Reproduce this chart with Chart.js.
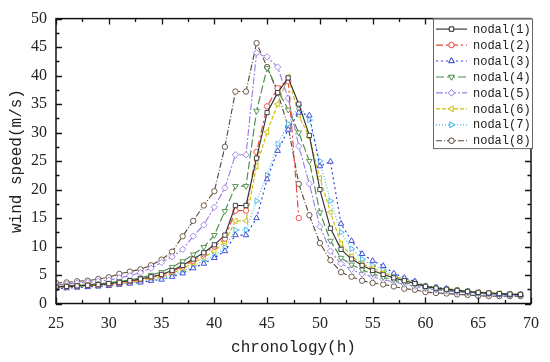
<!DOCTYPE html>
<html>
<head>
<meta charset="utf-8">
<script src="https://cdn.jsdelivr.net/npm/chart.js@4.4.0/dist/chart.umd.min.js"></script>
<style>
  html, body { margin: 0; padding: 0; background: #fff; }
  #wrap { width: 550px; height: 362px; }
</style>
</head>
<body>
<div id="wrap"><canvas id="chart" width="550" height="362"></canvas></div>
<script>
// hours on the x axis
const hours = [25,26,27,28,29,30,31,32,33,34,35,36,37,38,39,40,41,42,43,44,45,46,47,48,49,50,
  51,52,53,54,55,56,57,58,59,60,61,62,63,64,65,66,67,68,69];

// wind speed (m/s) per node
const nodal1 = [2.9,3.0,3.1,3.2,3.3,3.5,3.7,4.0,4.3,4.7,5.1,5.8,6.7,7.8,8.9,10.3,12.0,
  17.2,17.2,25.5,33.5,37.0,39.6,35.0,29.5,20.0,13.2,
  9.5,7.8,6.7,5.8,5.1,4.5,4.0,3.5,3.0,2.7,2.5,2.3,2.1,1.95,1.85,1.75,1.65,1.6];
const nodal2 = [2.9,3.0,3.1,3.2,3.3,3.4,3.6,3.9,4.2,4.6,5.0,5.6,6.5,7.5,8.6,10.0,11.4,
  16.3,16.3,26.6,34.6,37.8,39.0,15.0,
  null,null,null,null,null,null,null,null,null,null,null,null,null,null,null,null,null,null,null,null,null];
const nodal3 = [2.6,2.7,2.8,2.9,3.0,3.1,3.3,3.5,3.7,4.0,4.2,4.7,5.3,6.2,7.0,8.0,9.2,
  12.0,12.0,15.0,21.8,26.8,30.5,33.5,33.0,24.1,24.9,
  14.0,11.0,8.7,7.5,6.6,5.3,4.5,3.9,3.05,2.8,2.6,2.3,2.15,1.85,1.75,1.6,1.55,1.55];
const nodal4 = [3.0,3.1,3.2,3.3,3.5,3.6,3.9,4.1,4.5,5.0,5.5,6.4,7.4,8.6,9.9,12.0,16.2,
  20.6,20.6,33.8,41.3,37.5,34.0,30.0,25.0,16.0,11.0,
  8.0,6.8,5.9,5.2,4.6,4.1,3.7,3.3,2.8,2.6,2.4,2.2,2.0,1.9,1.8,1.7,1.6,1.55];
const nodal5 = [3.3,3.4,3.6,3.7,3.9,4.1,4.5,4.9,5.4,6.2,7.2,8.2,9.5,11.8,13.8,16.9,20.3,
  26.1,26.1,44.0,43.3,41.5,36.0,27.6,21.0,13.5,9.2,
  7.0,6.0,5.2,4.7,4.2,3.8,3.4,3.0,2.6,2.4,2.2,2.0,1.9,1.75,1.65,1.55,1.5,1.45];
const nodal6 = [2.8,2.9,3.0,3.1,3.2,3.3,3.5,3.7,4.0,4.4,4.7,5.3,6.1,7.1,8.1,9.2,10.8,
  14.5,14.5,24.1,30.1,35.0,39.8,33.0,29.2,22.0,16.0,
  10.5,8.3,7.0,6.2,5.4,4.8,4.2,3.7,3.1,2.8,2.6,2.4,2.2,2.0,1.9,1.8,1.7,1.65];
const nodal7 = [2.7,2.8,2.9,3.0,3.1,3.2,3.4,3.6,3.8,4.1,4.4,5.0,5.7,6.6,7.5,8.3,9.8,
  12.9,12.9,18.0,22.5,28.0,31.5,34.8,32.2,25.0,18.0,
  12.5,9.6,7.8,6.7,5.9,5.0,4.3,3.8,3.0,2.75,2.55,2.3,2.1,1.85,1.75,1.65,1.6,1.55];
const nodal8 = [3.6,3.7,3.9,4.0,4.3,4.6,5.2,5.6,6.0,6.7,7.7,9.1,11.8,14.5,17.2,19.7,27.5,
  37.2,37.2,45.7,41.5,37.0,31.0,21.0,15.5,10.6,7.6,
  5.5,4.7,4.0,3.6,3.35,3.0,2.6,2.4,2.0,1.85,1.75,1.6,1.5,1.35,1.3,1.3,1.3,1.3];

const names = ["nodal(1)","nodal(2)","nodal(3)","nodal(4)","nodal(5)","nodal(6)","nodal(7)","nodal(8)"];
const seriesList = [nodal1, nodal2, nodal3, nodal4, nodal5, nodal6, nodal7, nodal8];

// look of each series
const colors = ["#333333","#e8453c","#2f3fd6","#4a8c4a","#9b7fe8","#c9bd00","#3fb3e8","#5e4a3a"];
const dashes = [[], [7,3,2,3], [2,3], [8,3], [7,2,2,2], [4,2], [1,2], [6,2,1,2]];
const markers = ["rect","circle","triangle","triangle","rectRot","triangle","triangle","circle"];
const rotations = [0,0,0,180,0,270,90,0];
const radii = [3,2.7,3.2,3.2,3.2,3.2,3.2,2.7];

const datasets = seriesList.map((vals, i) => ({
  label: names[i],
  data: vals.map((v, j) => ({ x: hours[j], y: v })),
  borderColor: colors[i],
  borderWidth: 1.15,
  borderDash: dashes[i],
  pointStyle: markers[i],
  pointRotation: rotations[i],
  pointRadius: radii[i],
  pointBorderWidth: 0.9,
  pointBorderColor: colors[i],
  pointBackgroundColor: "#ffffff",
  fill: false,
  tension: 0,
  spanGaps: false
}));

// frame, inward ticks and the boxed legend
const framePlugin = {
  id: "frame",
  afterDatasetsDraw(chart) {
    const { ctx, chartArea: a, scales } = chart;
    const xs = scales.x, ys = scales.y;
    ctx.save();
    ctx.strokeStyle = "#111";
    ctx.lineWidth = 1.5;
    ctx.setLineDash([]);
    ctx.strokeRect(a.left, a.top, a.right - a.left, a.bottom - a.top);

    ctx.lineWidth = 1.3;
    ctx.beginPath();
    for (let v = 25; v <= 70; v += 2.5) {
      const px = Math.round(xs.getPixelForValue(v)) + 0.5;
      const len = (v % 5 === 0) ? 6 : 3.5;
      ctx.moveTo(px, a.bottom); ctx.lineTo(px, a.bottom - len);
      ctx.moveTo(px, a.top); ctx.lineTo(px, a.top + len);
    }
    for (let v = 0; v <= 50; v += 2.5) {
      const py = Math.round(ys.getPixelForValue(v)) + 0.5;
      const len = (v % 5 === 0) ? 6 : 3.5;
      ctx.moveTo(a.left, py); ctx.lineTo(a.left + len, py);
      ctx.moveTo(a.right, py); ctx.lineTo(a.right - len, py);
    }
    ctx.stroke();

    // legend box
    const bx = 433, by = a.top, bw = 99, bh = 129.5;
    ctx.fillStyle = "#fff";
    ctx.fillRect(bx, by, bw, bh);
    ctx.strokeStyle = "#666";
    ctx.lineWidth = 1;
    ctx.strokeRect(bx + 0.5, by + 0.5, bw, bh);

    chart.data.datasets.forEach((ds, i) => {
      const cy = by + 10.5 + i * 15.95;
      ctx.strokeStyle = ds.borderColor;
      ctx.lineWidth = ds.borderWidth;
      ctx.setLineDash(ds.borderDash);
      ctx.beginPath();
      ctx.moveTo(436, cy); ctx.lineTo(467, cy);
      ctx.stroke();
      ctx.setLineDash([]);
      ctx.fillStyle = "#fff";
      ctx.lineWidth = 0.9;
      Chart.helpers.drawPoint(ctx, {
        pointStyle: ds.pointStyle, rotation: ds.pointRotation,
        radius: ds.pointRadius, borderWidth: 0.9
      }, 451.5, cy);
      ctx.fill();
      ctx.stroke();
      ctx.fillStyle = "#222";
      ctx.font = "12px 'Liberation Mono'";
      ctx.textBaseline = "middle";
      ctx.textAlign = "left";
      ctx.fillText(ds.label, 473, cy + 0.5);
    });
    ctx.restore();
  }
};

new Chart(document.getElementById("chart"), {
  type: "line",
  data: { datasets },
  options: {
    responsive: false,
    animation: false,
    layout: { padding: { top: 12, right: 14, left: 0, bottom: 0 } },
    plugins: { legend: { display: false }, tooltip: { enabled: false } },
    scales: {
      x: {
        type: "linear",
        min: 25, max: 70,
        grid: { display: false, drawTicks: false },
        border: { display: false },
        ticks: {
          stepSize: 5, padding: 11, color: "#222",
          font: { family: "'Liberation Serif'", size: 16 }
        },
        title: {
          display: true, text: "chronology(h)", color: "#222",
          font: { family: "'Liberation Mono'", size: 16 },
          padding: { top: 0, bottom: 5 }
        },
        afterFit(scale) { scale.height = 58.5; }
      },
      y: {
        min: 0, max: 50,
        grid: { display: false, drawTicks: false },
        border: { display: false },
        ticks: {
          stepSize: 5, padding: 9, color: "#222",
          font: { family: "'Liberation Serif'", size: 16 }
        },
        title: {
          display: true, text: "wind speed(m/s)", color: "#222",
          font: { family: "'Liberation Mono'", size: 16 },
          padding: { top: 7, bottom: 0 }
        },
        afterFit(scale) { scale.width = 56; }
      }
    }
  },
  plugins: [framePlugin]
});
</script>
</body>
</html>
